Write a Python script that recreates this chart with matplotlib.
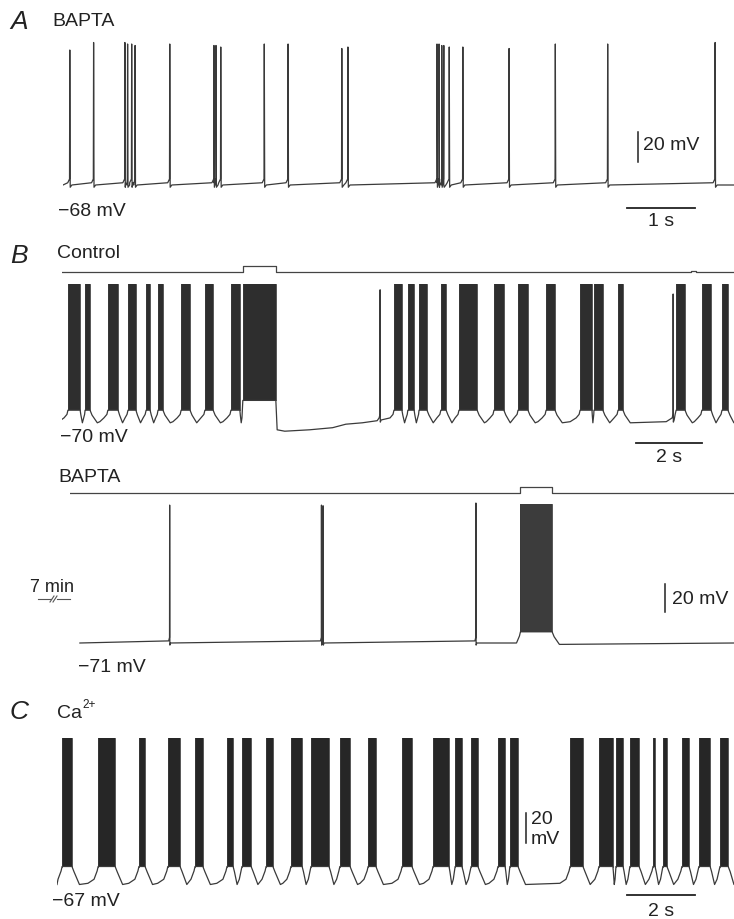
import matplotlib
matplotlib.use("Agg")
import matplotlib.pyplot as plt
from matplotlib.lines import Line2D

plt.rcParams['font.family'] = ['Liberation Sans', 'DejaVu Sans']

# ---------------- data ----------------
# Panel A: BAPTA, single spikes (s) and spike peaks (mV)
a_base = -68
a_spike_t = [0.10, 0.45, 0.91, 0.95, 1.01, 1.06, 1.57, 2.22, 2.25, 2.32, 2.96, 3.31,
             4.10, 4.19, 5.50, 5.53, 5.57, 5.60, 5.68, 5.88, 6.56, 7.24, 8.01, 9.59]
a_spike_v = [22, 27, 27, 26, 26, 25, 26, 25, 25, 24, 26, 26,
             23, 24, 26, 26, 25, 25, 24, 24, 23, 26, 26, 27]
a_tmax = 9.87

# Panel B control: bursts (start, end in s)
b1_pre, b1_plateau, b1_trough, b1_peak = -68.5, -63, -72, 27
b1_burst_start = [0.18, 0.70, 1.39, 2.00, 2.55, 2.91, 3.61, 4.33, 5.12, 5.48,
                  10.06, 10.48, 10.82, 11.48, 12.03, 13.09, 13.82, 14.67, 15.70,
                  16.12, 16.85, 18.61, 19.39, 20.00]
b1_burst_end = [0.55, 0.85, 1.70, 2.24, 2.67, 3.06, 3.88, 4.58, 5.39, 6.48,
                10.30, 10.67, 11.06, 11.64, 12.58, 13.39, 14.12, 14.94, 16.06,
                16.39, 17.00, 18.88, 19.67, 20.18]
b1_inj_index = 9
b1_inj_plateau = -56
b1_spike_t = [9.64, 18.52]
b1_spike_v = [23, 20]
b1_recovery_t = [6.52, 6.75, 7.5, 8.2, 8.6, 9.1, 9.55]
b1_recovery_v = [-77, -78, -77, -75.5, -73, -72, -70.5]
b1_stim_t = [0.0, 5.48, 5.48, 6.48, 6.48, 19.05, 19.05, 19.2, 19.2, 20.36]
b1_stim_v = [0, 0, 1, 1, 0, 0, 0.2, 0.2, 0, 0]
b1_tmax = 20.36

# Panel B BAPTA
b2_base, b2_plateau, b2_peak = -71, -63, 28
b2_trace_start = 0.30
b2_spike_t = [3.02, 7.62, 7.67, 12.30]
b2_spike_v = [27.5, 27.5, 27, 29]
b2_burst_start = [13.65]
b2_burst_end = [14.61]
b2_stim_t = [0.0, 13.64, 13.64, 14.61, 14.61, 20.12]
b2_stim_v = [0, 0, 1, 1, 0, 0]
b2_tmax = 20.12

# Panel C: Ca2+
c_pre, c_plateau, c_trough, c_peak = -64.5, -56, -68, 30
c_burst_start = [0.15, 1.21, 2.41, 3.26, 4.06, 5.00, 5.44, 6.15, 6.88, 7.47, 8.32,
                 9.15, 10.15, 11.06, 11.71, 12.18, 12.97, 13.32, 15.09, 15.94,
                 16.44, 16.85, 17.53, 17.82, 18.38, 18.88, 19.50]
c_burst_end = [0.44, 1.71, 2.59, 3.62, 4.29, 5.18, 5.71, 6.35, 7.21, 8.00, 8.62,
               9.38, 10.44, 11.53, 11.91, 12.38, 13.18, 13.56, 15.47, 16.35,
               16.65, 17.12, 17.59, 17.94, 18.59, 19.21, 19.74]
c_tmax = 19.91

# ---------------- figure ----------------
W, H = 734, 919
fig = plt.figure(figsize=(W / 100, H / 100), dpi=100)
fig.patch.set_facecolor('white')
TRACE = '#3a3a3a'
BURST = '#2e2e2e'


def make_axes(x_left_px, y_ref_px, v_ref, px_per_s, px_per_unit, t_max, vmin, vmax):
    width_px = t_max * px_per_s
    top_px = y_ref_px - (vmax - v_ref) * px_per_unit
    bot_px = y_ref_px + (v_ref - vmin) * px_per_unit
    ax = fig.add_axes([x_left_px / W, 1 - bot_px / H, width_px / W, (bot_px - top_px) / H])
    ax.set_xlim(0, t_max)
    ax.set_ylim(vmin, vmax)
    ax.axis('off')
    return ax


def spike_points(ts, vs, base):
    pts = []
    for t, v in zip(ts, vs):
        pts += [(t - 0.03, base + 1.5), (t - 0.004, base + 4), (t, v), (t + 0.006, base - 1.5),
                (t + 0.03, base)]
    return pts


def burst_points(starts, ends, pre, plateau, trough, plateaus=None, skip_after=()):
    pts = []
    n = len(starts)
    for i, (s, e) in enumerate(zip(starts, ends)):
        p = plateaus[i] if plateaus is not None else plateau
        gb = s - ends[i - 1] if i > 0 else 1.0
        ga = starts[i + 1] - e if i < n - 1 else 1.0
        if i > 0 and (i - 1) not in skip_after and gb > 0.5:
            pts.append((s - min(0.3, gb * 0.45), trough + 0.8))
        pts += [(s - min(0.12, gb * 0.3), pre),
                (s - min(0.03, gb * 0.1), p - 3), (s, p), (e, p)]
        if i not in skip_after:
            pts += [(e + min(0.06, ga * 0.15), p - 3.5),
                    (e + min(0.22, ga * 0.45), trough)]
    return pts


def draw_trace(ax, pts):
    pts = sorted(pts)
    ax.plot([p[0] for p in pts], [p[1] for p in pts], color=TRACE, lw=0.9,
            solid_joinstyle='round')


def draw_bursts(ax, starts, ends, lows, peak, color=BURST):
    for s, e, lo in zip(starts, ends, lows):
        ax.fill_between([s, e], lo, peak, color=color, lw=0)
        ax.plot([s, s], [lo, peak], color=TRACE, lw=0.6)
        ax.plot([e, e], [lo, peak], color=TRACE, lw=0.6)


def label(x, y, s, size=14, **kw):
    fig.text(x / W, 1 - y / H, s, fontsize=size, va='center', color='#222222', **kw)


# ---------------- Panel A ----------------
axA = make_axes(63, 185, a_base, 68, 1.5, a_tmax, -90, 32)
ptsA = [(0, a_base), (a_tmax, a_base)] + spike_points(a_spike_t, a_spike_v, a_base)
draw_trace(axA, ptsA)
axA.plot([8.46, 8.46], [-52.7, -32.7], color='#222', lw=1.1, clip_on=False)
axA.plot([8.29, 9.29], [-83.1, -83.1], color='#222', lw=1.3, clip_on=False)
label(10, 22, 'A', size=19, style='italic')
label(52, 22, 'BAPTA')
label(58, 211, '\u221268 mV')
label(643, 146, '20 mV')
label(661, 221, '1 s', ha='center')

# ---------------- Panel B control ----------------
axB1s = make_axes(62, 272, 0, 33, 6, b1_tmax, -1, 2)
axB1s.plot(b1_stim_t, b1_stim_v, color='#444', lw=0.9)
axB1 = make_axes(62, 420, -70, 33, 1.4, b1_tmax, -92, 32)
plB1 = [b1_inj_plateau if i == b1_inj_index else b1_plateau for i in range(len(b1_burst_start))]
ptsB1 = [(0.0, b1_pre - 1), (b1_tmax, b1_trough)]
ptsB1 += burst_points(b1_burst_start, b1_burst_end, b1_pre, b1_plateau, b1_trough,
                      plateaus=plB1, skip_after={b1_inj_index})
ptsB1 += list(zip(b1_recovery_t, b1_recovery_v))
ptsB1 += spike_points(b1_spike_t, b1_spike_v, -70)
draw_trace(axB1, ptsB1)
draw_bursts(axB1, b1_burst_start, b1_burst_end, plB1, b1_peak)
axB1.plot([17.39, 19.39], [-86.4, -86.4], color='#222', lw=1.3, clip_on=False)
label(10, 256, 'B', size=19, style='italic')
label(57, 253, 'Control')
label(60, 438, '\u221270 mV')
label(669, 457, '2 s', ha='center')

# ---------------- Panel B BAPTA ----------------
axB2s = make_axes(70, 493, 0, 33, 6, b2_tmax, -1, 2)
axB2s.plot(b2_stim_t, b2_stim_v, color='#444', lw=0.9)
axB2 = make_axes(70, 643, b2_base, 33, 1.4, b2_tmax, -92, 32)
ptsB2 = [(b2_trace_start, b2_base), (b2_tmax, b2_base)]
ptsB2 += spike_points(b2_spike_t, b2_spike_v, b2_base)
ptsB2 += burst_points(b2_burst_start, b2_burst_end, b2_base, b2_plateau, b2_base - 1)
draw_trace(axB2, ptsB2)
draw_bursts(axB2, b2_burst_start, b2_burst_end, [b2_plateau], b2_peak, color='#3c3c3c')
axB2.plot([18.03, 18.03], [-49, -29], color='#222', lw=1.1, clip_on=False)
label(58, 478, 'BAPTA')
label(30, 587, '7 min', size=13)
fig.add_artist(Line2D([38 / W, 51 / W], [1 - 599 / H] * 2, color='#555', lw=0.8))
fig.add_artist(Line2D([57 / W, 70 / W], [1 - 599 / H] * 2, color='#555', lw=0.8))
fig.add_artist(Line2D([50 / W, 54 / W], [1 - 602 / H, 1 - 596 / H], color='#555', lw=0.8))
fig.add_artist(Line2D([53 / W, 57 / W], [1 - 602 / H, 1 - 596 / H], color='#555', lw=0.8))
label(672, 599, '20 mV')
label(78, 667, '\u221271 mV')

# ---------------- Panel C ----------------
axC = make_axes(57, 883, -67, 34, 1.5, c_tmax, -82, 34)
ptsC = [(0.0, c_trough), (c_tmax, c_trough)]
ptsC += burst_points(c_burst_start, c_burst_end, c_pre, c_plateau, c_trough)
draw_trace(axC, ptsC)
draw_bursts(axC, c_burst_start, c_burst_end, [c_plateau] * len(c_burst_start), c_peak,
            color='#262626')
axC.plot([13.79, 13.79], [-40.3, -20.3], color='#222', lw=1.1, clip_on=False)
axC.plot([16.76, 18.76], [-75, -75], color='#222', lw=1.3, clip_on=False)
label(10, 712, 'C', size=19, style='italic')
label(57, 713, 'Ca')
label(82, 705, '2+', size=8.5)
label(531, 820, '20')
label(531, 839, 'mV')
label(52, 902, '\u221267 mV')
label(661, 912, '2 s', ha='center')

fig.savefig('out.png', dpi=100, facecolor='white')
